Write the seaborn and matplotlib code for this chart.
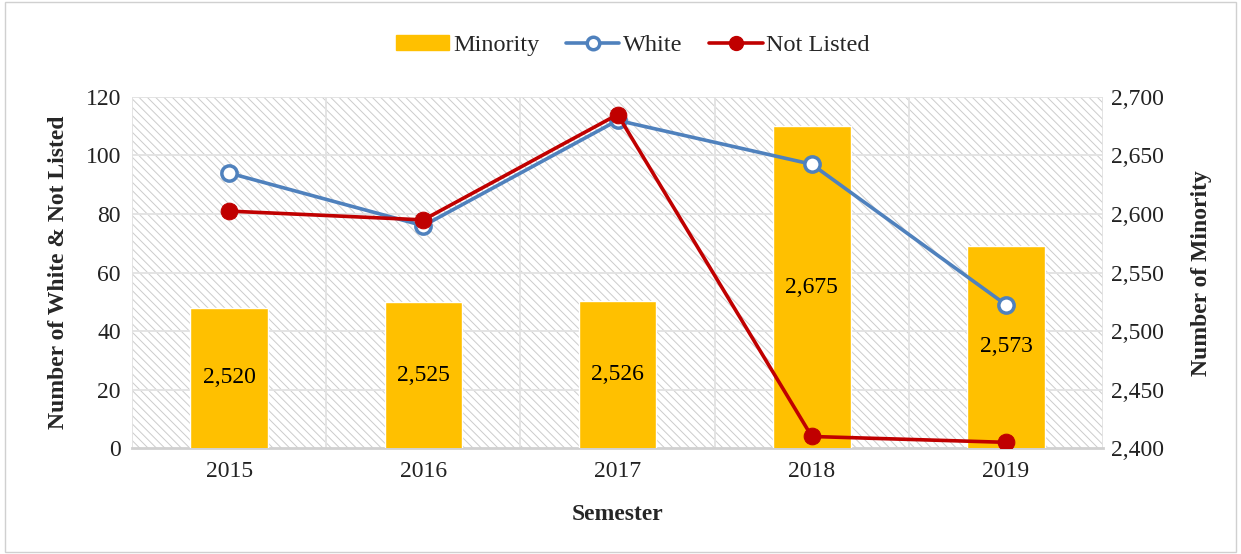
import numpy as np
import pandas as pd
import matplotlib
matplotlib.use("Agg")
import matplotlib.pyplot as plt
import seaborn as sns
from matplotlib.patches import Rectangle, Patch
from matplotlib.lines import Line2D
from matplotlib.ticker import FuncFormatter

# Dados
years = ["2015", "2016", "2017", "2018", "2019"]
minority = [2520, 2525, 2526, 2675, 2573]
white = [94, 76, 112, 97, 49]
not_listed = [81, 78, 114, 4, 2]

sns.set_style("white")
plt.rcParams["font.family"] = ["Liberation Serif", "DejaVu Serif"]
plt.rcParams["hatch.linewidth"] = 0.7
plt.rcParams["hatch.color"] = "#cccccc"

BAR = "#FFC000"
BLUE = "#4F81BD"
RED = "#C00000"
GRID = "#e2e2e2"
FS = 17

fig = plt.figure(figsize=(12.41, 5.54), dpi=100)
fig.patches.append(Rectangle((0.004, 0.004), 0.992, 0.992, transform=fig.transFigure,
                             fill=False, edgecolor="#d0d0d0", linewidth=1))

ax_bar = fig.add_axes([0.1064, 0.191, 0.7825, 0.634])
ax_line = ax_bar.twinx()

# fundo hachurado
ax_bar.add_patch(Rectangle((0, 0), 1, 1, transform=ax_bar.transAxes, facecolor="white",
                           hatch="\\\\\\\\", edgecolor="#cccccc", linewidth=0, zorder=0))

df = pd.DataFrame({"year": years, "minority": minority})
sns.barplot(data=df, x="year", y="minority", color=BAR, width=0.4, saturation=1,
            ax=ax_bar, zorder=3)
ax_bar.set_ylim(2400, 2700)
ax_bar.set_xlim(-0.5, len(years) - 0.5)

# rótulos das barras (centro da barra)
for i, v in enumerate(minority):
    ax_bar.text(i, (2400 + v) / 2, f"{v:,}", ha="center", va="center",
                fontsize=FS, color="black", zorder=4)

x = np.arange(len(years))
sns.lineplot(x=x, y=white, ax=ax_line, color=BLUE, linewidth=2.6, marker="o",
             markersize=11, markerfacecolor="white", markeredgecolor=BLUE,
             markeredgewidth=2.5, zorder=5)
sns.lineplot(x=x, y=not_listed, ax=ax_line, color=RED, linewidth=2.6, marker="o",
             markersize=12, markerfacecolor=RED, markeredgecolor=RED, zorder=6)
ax_line.set_ylim(0, 120)
ax_line.set_yticks(range(0, 121, 20))

# eixos: barras à direita, linhas à esquerda
ax_bar.yaxis.tick_right()
ax_bar.yaxis.set_label_position("right")
ax_line.yaxis.tick_left()
ax_line.yaxis.set_label_position("left")
ax_bar.yaxis.set_major_formatter(FuncFormatter(lambda v, p: f"{int(v):,}"))

# grade
for yv in range(20, 121, 20):
    ax_bar.axhline(2400 + yv * 2.5, color=GRID, linewidth=1.3, zorder=1)
for xv in np.arange(-0.5, len(years), 1.0):
    ax_bar.axvline(xv, color=GRID, linewidth=1.3, zorder=1)

for a in (ax_bar, ax_line):
    for s in a.spines.values():
        s.set_visible(False)
    a.tick_params(length=0, labelsize=FS, colors="#222222")
ax_bar.spines["bottom"].set_visible(True)
ax_bar.spines["bottom"].set_color("#d0d0d0")
ax_bar.spines["bottom"].set_linewidth(2)
ax_bar.tick_params(axis="x", pad=9)
ax_bar.tick_params(axis="y", pad=6)
ax_line.tick_params(axis="y", pad=8)

ax_bar.set_xlabel("Semester", fontsize=FS, fontweight="bold", labelpad=16)
ax_bar.set_ylabel("Number of Minority", fontsize=FS, fontweight="bold", labelpad=19)
ax_line.set_ylabel("Number of White & Not Listed", fontsize=FS, fontweight="bold", labelpad=12)

handles = [
    Patch(facecolor=BAR, edgecolor=BAR),
    Line2D([], [], color=BLUE, linewidth=2.6, marker="o", markersize=9,
           markerfacecolor="white", markeredgecolor=BLUE, markeredgewidth=2.5),
    Line2D([], [], color=RED, linewidth=2.6, marker="o", markersize=10,
           markerfacecolor=RED, markeredgecolor=RED),
]
fig.legend(handles, ["Minority", "White", "Not Listed"], loc="center",
           bbox_to_anchor=(0.51, 0.918), ncol=3, frameon=False, fontsize=17.5,
           handlelength=2.2, handleheight=0.6, handletextpad=0.15, columnspacing=1.1)

plt.savefig("out.png", dpi=100)
plt.close()
